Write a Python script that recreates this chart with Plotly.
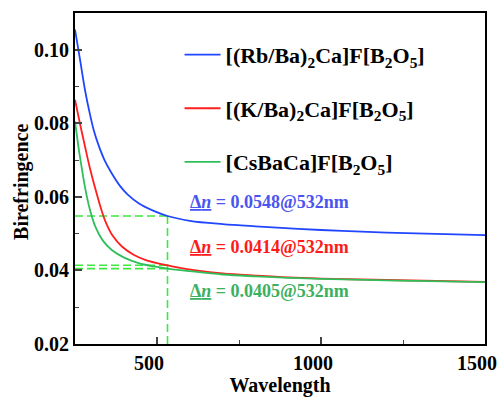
import plotly.graph_objects as go

# ---- data ----
wl_rb = [250, 265, 281, 295, 307, 322, 340, 360, 387, 410, 444, 490, 532, 600, 700, 800, 1000, 1200, 1500]
dn_rb = [0.1055, 0.0975, 0.0888, 0.0827, 0.0782, 0.0740, 0.0700, 0.0667, 0.0630, 0.0607, 0.0583, 0.0562,
         0.0548, 0.0535, 0.0526, 0.0520, 0.0510, 0.0503, 0.0496]

wl_k = [250, 265, 281, 295, 312, 328, 342, 365, 393, 430, 464, 500, 532, 570, 630, 700, 800, 900, 1000, 1200, 1500]
dn_k = [0.0864, 0.0800, 0.0735, 0.0680, 0.0622, 0.0572, 0.0535, 0.0494, 0.0465, 0.0442, 0.0429, 0.0420,
        0.0414, 0.0407, 0.0399, 0.0392, 0.0386, 0.0381, 0.0378, 0.0374, 0.0369]

wl_cs = [250, 256, 263, 270, 281, 295, 312, 335, 363, 400, 444, 490, 532, 600, 700, 800, 900, 1000, 1200, 1500]
dn_cs = [0.0805, 0.0765, 0.0721, 0.0682, 0.0624, 0.0567, 0.0519, 0.0481, 0.0455, 0.0435, 0.0420, 0.0411,
         0.0405, 0.0398, 0.0389, 0.0384, 0.0380, 0.0377, 0.0373, 0.0368]

names = ["[(Rb/Ba)<sub>2</sub>Ca]F[B<sub>2</sub>O<sub>5</sub>]",
         "[(K/Ba)<sub>2</sub>Ca]F[B<sub>2</sub>O<sub>5</sub>]",
         "[CsBaCa]F[B<sub>2</sub>O<sub>5</sub>]"]

x_tickvals = [500, 1000, 1500]
y_tickvals = [0.02, 0.04, 0.06, 0.08, 0.10]

lambda_ref = 532
dn_ref = [0.0548, 0.0414, 0.0405]
x_start = 250
y_floor = 0.02

label_x = 596
label_y = [0.0586, 0.0463, 0.0343]

line_colors = ["#2146ff", "#ff1f1f", "#2fbf5a"]
text_colors = ["#4a55f0", "#ff1a1a", "#3cb060"]
dash_color = "#3ee83e"
FONT = "Liberation Serif, Times New Roman, serif"

fig = go.Figure()

# dashed guide lines
for v in dn_ref:
    fig.add_trace(go.Scatter(x=[x_start, lambda_ref], y=[v, v], mode="lines",
                             line=dict(color=dash_color, width=1.6, dash="8px,4px"),
                             showlegend=False, hoverinfo="skip"))
fig.add_trace(go.Scatter(x=[lambda_ref, lambda_ref], y=[y_floor, dn_ref[0]], mode="lines",
                         line=dict(color=dash_color, width=1.6, dash="8px,4px"),
                         showlegend=False, hoverinfo="skip"))

for i, (wl, dn) in enumerate([(wl_rb, dn_rb), (wl_k, dn_k), (wl_cs, dn_cs)]):
    fig.add_trace(go.Scatter(x=wl, y=dn, mode="lines", name="<b>" + names[i] + "</b>",
                             line=dict(color=line_colors[i], width=1.8, shape="spline", smoothing=1.0),
                             legendgroup=str(i)))

for i in range(3):
    fig.add_annotation(x=label_x, y=label_y[i], xref="x", yref="y", xanchor="left", yanchor="middle",
                       text=(f"<b><span style='text-decoration:underline'>Δ<i>n</i></span>"
                             f" = {dn_ref[i]:.4f}@{lambda_ref}nm</b>"),
                       showarrow=False,
                       font=dict(family=FONT, size=18, color=text_colors[i]))

# y-axis title as a rotated annotation for exact placement
fig.add_annotation(x=-0.129, y=0.49, xref="paper", yref="paper", xanchor="center", yanchor="middle",
                   text="<b>Birefringence</b>", textangle=-90, showarrow=False,
                   font=dict(family=FONT, size=20, color="black"))

fig.update_layout(
    width=498, height=397,
    margin=dict(l=75, r=13, t=13, b=53),
    plot_bgcolor="white", paper_bgcolor="white",
    font=dict(family=FONT, size=18, color="black"),
    showlegend=True,
    legend=dict(x=0.255, y=0.937, xanchor="left", yanchor="top", bgcolor="rgba(0,0,0,0)",
                font=dict(family=FONT, size=22, color="black"), tracegroupgap=22,
                itemwidth=36, traceorder="grouped"),
    xaxis=dict(range=[250, 1500], tickvals=x_tickvals,
               ticks="inside", ticklen=7, tickwidth=1.5,
               minor=dict(tickvals=[250, 750, 1250], ticks="inside", ticklen=4, tickwidth=1.2),
               showline=True, linecolor="black", linewidth=2, mirror=True, showgrid=False, zeroline=False,
               automargin=False, ticklabeloverflow="allow", ticklabelshift=-8,
               tickfont=dict(family=FONT, size=20, color="black", weight="bold"),
               title=dict(text="<b>Wavelength</b>", font=dict(family=FONT, size=20), standoff=9)),
    yaxis=dict(range=[0.02, 0.11], tickvals=y_tickvals, tickformat=".2f",
               ticks="inside", ticklen=7, tickwidth=1.5,
               minor=dict(tickvals=[0.03, 0.05, 0.07, 0.09], ticks="inside", ticklen=4, tickwidth=1.2),
               showline=True, linecolor="black", linewidth=2, mirror=True, showgrid=False, zeroline=False,
               automargin=False, ticklabeloverflow="allow",
               tickfont=dict(family=FONT, size=20, color="black", weight="bold")),
)

# remove the browser's default 8px body margin so the 498x397 figure fills the window exactly
fig.write_html("out.html",
               config={"displayModeBar": False},
               post_script="document.body.style.margin='0';"
                           "document.documentElement.style.overflow='hidden';")
